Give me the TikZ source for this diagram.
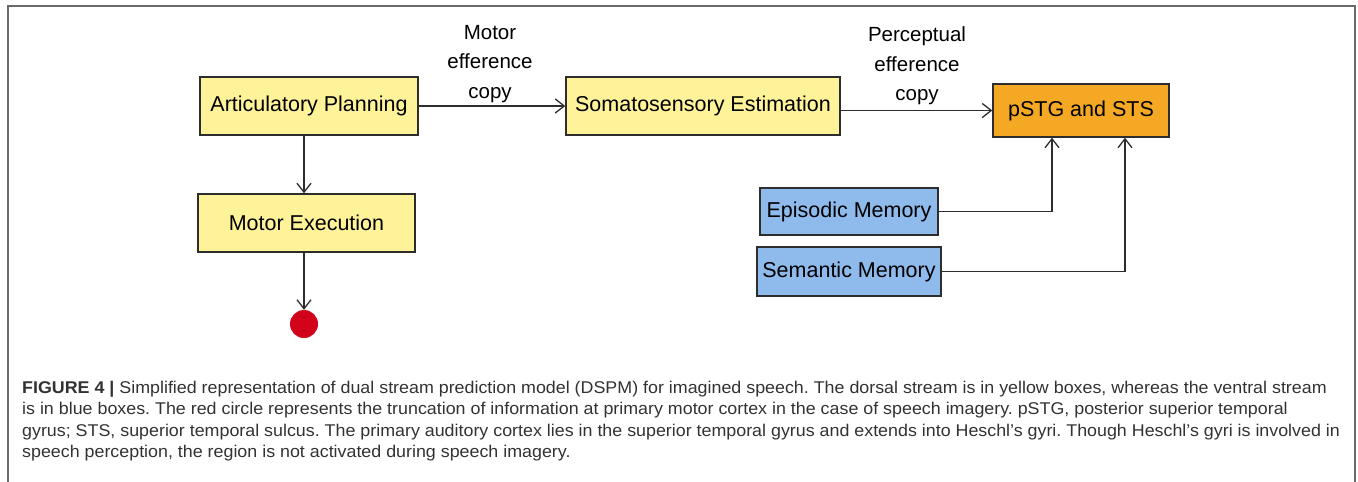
\documentclass[tikz,border=0pt]{standalone}
\usepackage{fontspec}
\setmainfont{Liberation Sans}
\newfontfamily\capfont[FakeStretch=1.05]{Liberation Sans}
\usetikzlibrary{arrows.meta, positioning, calc}
\definecolor{dorsal}{RGB}{255, 243, 153}
\definecolor{ventral}{RGB}{143, 186, 236}
\definecolor{target}{RGB}{245, 168, 36}
\definecolor{halt}{RGB}{210, 2, 27}
\definecolor{edge}{RGB}{45, 45, 45}
\definecolor{frame}{RGB}{105, 105, 105}
\definecolor{captext}{RGB}{50, 50, 50}
\tikzstyle{dorsalbox} = [rectangle, draw=edge, line width=1.4pt, fill=dorsal, minimum height=58, inner sep=0pt, font=\fontsize{21.5}{25}\selectfont]
\tikzstyle{ventralbox} = [rectangle, draw=edge, line width=1.4pt, fill=ventral, minimum height=48, inner sep=0pt, font=\fontsize{21.5}{25}\selectfont]
\tikzstyle{targetbox} = [rectangle, draw=edge, line width=1.4pt, fill=target, minimum height=53, inner sep=0pt, font=\fontsize{21.5}{25}\selectfont]
\tikzstyle{arrowlabel} = [align=center, inner sep=0pt, font=\fontsize{20.5}{29.5}\selectfont]
\tikzstyle{arrow} = [line width=1.3pt, draw=edge, -{Straight Barb[length=9pt, width=14pt]}]
\tikzstyle{caption} = [anchor=base west, inner sep=0pt, text=captext, font=\capfont\fontsize{17}{21.3}\selectfont\frenchspacing]

\begin{document}
\begin{tikzpicture}[x=1pt, y=-1pt]
    \useasboundingbox (0,0) rectangle (1358,482);

    % Outer frame (open at the bottom)
    \draw[frame, line width=1.8pt] (8,482) -- (8,6) -- (1355,6) -- (1355,482);

    % Dorsal stream
    \node[dorsalbox, minimum width=218] (plan) at (309,106) {Articulatory Planning};
    \node[dorsalbox, minimum width=217] (exec) at (306.5,223) {Motor Execution};
    \node[circle, fill=halt, minimum size=28, inner sep=0pt] (stop) at (304,324) {};
    \node[dorsalbox, minimum width=274] (soma) at (703,106) {Somatosensory Estimation};

    % Target region
    \node[targetbox, minimum width=176] (pstg) at (1081,110.5) {pSTG and STS};

    % Ventral stream
    \node[ventralbox, minimum width=178, minimum height=47] (epi) at (849,211.5) {Episodic Memory};
    \node[ventralbox, minimum width=184, minimum height=49] (sem) at (849,271.5) {Semantic Memory};

    % Arrow labels
    \node[arrowlabel] (mcopy) at (490,64) {Motor\\efference\\copy};
    \node[arrowlabel] (pcopy) at (917,66) {Perceptual\\efference\\copy};

    % Arrows
    \draw[arrow] (plan.south -| stop) -- (exec.north -| stop);
    \draw[arrow] (exec.south -| stop) -- (stop.north);
    \draw[arrow] (plan) -- (soma);
    \draw[arrow] (soma.east |- pstg.west) -- (pstg.west);
    \draw[arrow] (epi.east) -| ([xshift=-29pt]pstg.south);
    \draw[arrow] (sem.east) -| ([xshift=44pt]pstg.south);

    % Caption
    \node[caption] (cap1) at (22,393.5) {{\bfseries FIGURE 4 |} Simplified representation of dual stream prediction model (DSPM) for imagined speech. The dorsal stream is in yellow boxes, whereas the ventral stream};
    \node[caption] (cap2) at (22,414.8) {is in blue boxes. The red circle represents the truncation of information at primary motor cortex in the case of speech imagery. pSTG, posterior superior temporal};
    \node[caption] (cap3) at (22,436.1) {gyrus; STS, superior temporal sulcus. The primary auditory cortex lies in the superior temporal gyrus and extends into Heschl’s gyri. Though Heschl’s gyri is involved in};
    \node[caption] (cap4) at (22,457.4) {speech perception, the region is not activated during speech imagery.};
\end{tikzpicture}
\end{document}
